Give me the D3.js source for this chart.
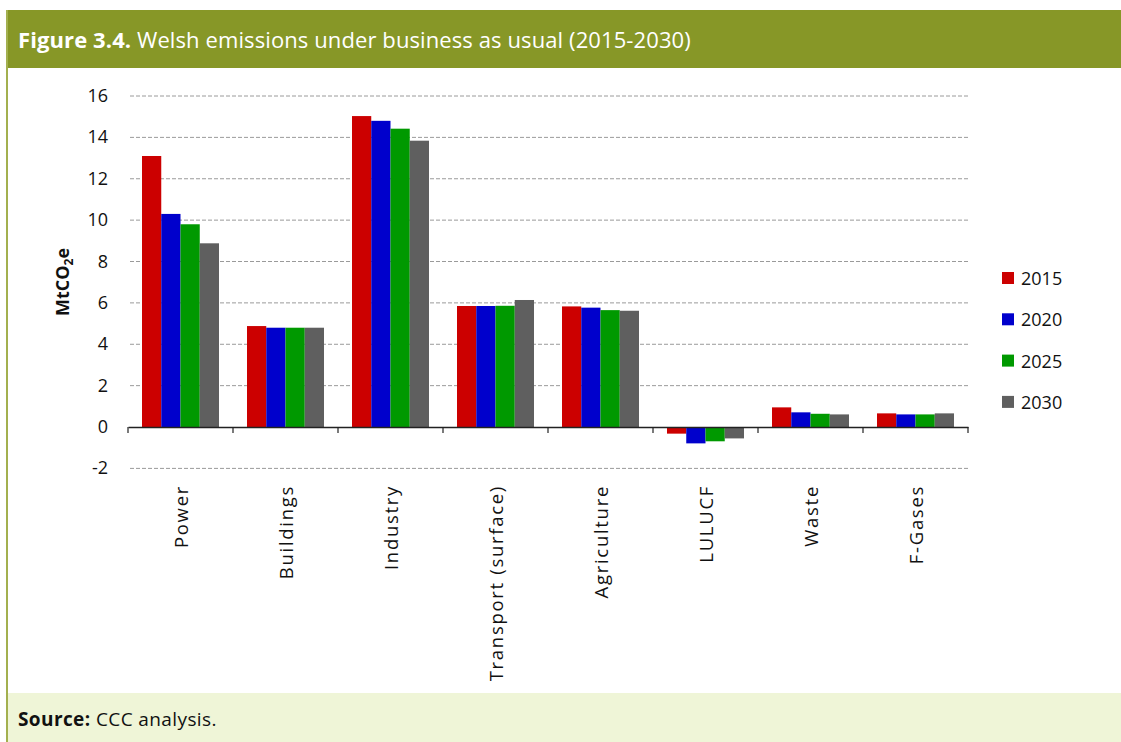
<!DOCTYPE html>
<html>
<head>
<meta charset="utf-8">
<script src="https://cdn.jsdelivr.net/npm/d3@7"></script>
<style>
  body { margin: 0; background: #fff; }
  svg { display: block; font-family: "Open Sans", sans-serif; }
</style>
</head>
<body>
<svg id="chart" width="1121" height="742"></svg>
<script>
var sectors = ["Power", "Buildings", "Industry", "Transport (surface)", "Agriculture", "LULUCF", "Waste", "F-Gases"];
var years = ["2015", "2020", "2025", "2030"];
var v2015 = [13.1, 4.88, 15.03, 5.85, 5.83, -0.32, 0.95, 0.66];
var v2020 = [10.3, 4.8, 14.8, 5.85, 5.77, -0.79, 0.71, 0.61];
var v2025 = [9.8, 4.8, 14.42, 5.86, 5.65, -0.69, 0.64, 0.61];
var v2030 = [8.88, 4.8, 13.84, 6.14, 5.62, -0.55, 0.61, 0.66];
var yTicks = [-2, 0, 2, 4, 6, 8, 10, 12, 14, 16];
var colours = ["#cc0000", "#0000cc", "#009900", "#5f5f5f"];

var series = [v2015, v2020, v2025, v2030];

var svg = d3.select("#chart");

// frame: title band, left rule, footer
svg.append("rect").attr("x", 6).attr("y", 10).attr("width", 1115).attr("height", 58).attr("fill", "#879727");
svg.append("rect").attr("x", 6).attr("y", 10).attr("width", 2).attr("height", 732).attr("fill", "#a3b04f");
svg.append("rect").attr("x", 8).attr("y", 693).attr("width", 1113).attr("height", 49).attr("fill", "#eff5d7");

var title = svg.append("text").attr("x", 18).attr("y", 48).attr("fill", "#fff")
  .style("font-size", "22px").style("letter-spacing", "0.1px");
title.append("tspan").style("font-weight", "bold").text("Figure 3.4.");
title.append("tspan").text(" Welsh emissions under business as usual (2015-2030)");

var src = svg.append("text").attr("x", 18).attr("y", 726).attr("fill", "#111")
  .style("font-size", "19px").style("letter-spacing", "0.4px");
src.append("tspan").style("font-weight", "bold").text("Source:");
src.append("tspan").text(" CCC analysis.");

var x0 = d3.scaleBand().domain(sectors).range([128, 968]);
var x1 = d3.scaleBand().domain(years).range([14, 91]);
var y = d3.scaleLinear().domain([-2, 16]).range([468.4, 96]);

// gridlines
svg.append("g").selectAll("line").data(yTicks.filter(function(d) { return d != 0; }))
  .enter().append("line")
  .attr("x1", 130).attr("x2", 968)
  .attr("y1", function(d) { return y(d); }).attr("y2", function(d) { return y(d); })
  .attr("stroke", "#9a9a9a").attr("stroke-width", 1).attr("stroke-dasharray", "4,2");

// y tick labels
svg.append("g").selectAll("text").data(yTicks).enter().append("text")
  .attr("x", 108).attr("y", function(d) { return y(d) + 6; })
  .attr("text-anchor", "end").attr("fill", "#111").style("font-size", "18px")
  .text(function(d) { return d; });

// bars
var groups = svg.append("g").selectAll("g").data(sectors).enter().append("g")
  .attr("transform", function(d) { return "translate(" + x0(d) + ",0)"; });

groups.selectAll("rect")
  .data(function(d, i) { return series.map(function(s, k) { return { year: years[k], value: s[i], k: k }; }); })
  .enter().append("rect")
  .attr("x", function(d) { return x1(d.year); })
  .attr("width", x1.bandwidth())
  .attr("y", function(d) { return y(Math.max(0, d.value)); })
  .attr("height", function(d) { return Math.abs(y(d.value) - y(0)); })
  .attr("fill", function(d) { return colours[d.k]; });

// x axis
var xAxis = d3.axisBottom(x0).tickSize(0).tickFormat("");
var ax = svg.append("g").attr("transform", "translate(0," + y(0) + ")").call(xAxis);
ax.select(".domain").attr("stroke", "#222").attr("stroke-width", 1.5);
ax.selectAll(".tick").remove();
svg.append("g").selectAll("line").data(d3.range(sectors.length + 1)).enter().append("line")
  .attr("x1", function(i) { return 128 + i * x0.step(); })
  .attr("x2", function(i) { return 128 + i * x0.step(); })
  .attr("y1", y(0)).attr("y2", y(0) + 6)
  .attr("stroke", "#222").attr("stroke-width", 1.2);

// category labels
svg.append("g").selectAll("text").data(sectors).enter().append("text")
  .attr("transform", function(d) { return "translate(" + (x0(d) + x0.bandwidth() / 2 + 7) + ",485) rotate(-90)"; })
  .attr("text-anchor", "end").attr("fill", "#111")
  .style("font-size", "18.5px").style("letter-spacing", "1.7px")
  .text(function(d) { return d; });

// y axis title
var yt = svg.append("text").attr("transform", "translate(69,282) rotate(-90)")
  .attr("text-anchor", "middle").attr("fill", "#111")
  .style("font-size", "18px").style("font-weight", "bold");
yt.append("tspan").text("MtCO");
yt.append("tspan").attr("dy", 4).style("font-size", "12px").text("2");
yt.append("tspan").attr("dy", -4).text("e");

// legend
var legend = svg.append("g").selectAll("g").data(years).enter().append("g")
  .attr("transform", function(d, i) { return "translate(1002," + (272 + i * 41.3) + ")"; });
legend.append("rect").attr("width", 12).attr("height", 12)
  .attr("fill", function(d, i) { return colours[i]; });
legend.append("text").attr("x", 19).attr("y", 13).attr("fill", "#111")
  .style("font-size", "18px").text(function(d) { return d; });
</script>
</body>
</html>
